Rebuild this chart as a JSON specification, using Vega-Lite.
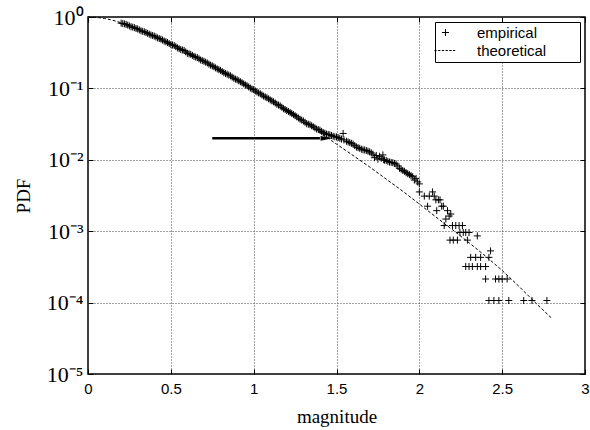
{
  "$schema": "https://vega.github.io/schema/vega-lite/v6.json",
  "width": 497,
  "height": 357,
  "autosize": {"type": "none"},
  "padding": {"left": 88, "top": 17, "right": 5, "bottom": 56},
  "background": "white",
  "config": {
    "view": {"stroke": "black", "strokeWidth": 1.5},
    "axis": {"domain": false, "tickColor": "black", "tickSize": -5, "tickWidth": 1, "labelColor": "black", "titleColor": "black", "titleFontWeight": "normal"},
    "legend": {
      "orient": "top-right", "offset": 5, "strokeColor": "black", "strokeWidth": 1, "fillColor": "white",
      "padding": 3, "cornerRadius": 0, "labelFont": "Liberation Sans", "labelFontSize": 15, "labelColor": "black",
      "symbolSize": 49, "symbolStrokeWidth": 1, "symbolStrokeColor": "black", "symbolFillColor": "transparent",
      "symbolOffset": 0, "labelOffset": 24, "rowPadding": 2
    }
  },
  "datasets": {
    "emp": [
      {"m": 0.20, "pdf": 0.82}, {"m": 0.21, "pdf": 0.81}, {"m": 0.22, "pdf": 0.80}, {"m": 0.23, "pdf": 0.785}, {"m": 0.24, "pdf": 0.77}, {"m": 0.25, "pdf": 0.75}, {"m": 0.26, "pdf": 0.73},
      {"m": 0.27, "pdf": 0.72}, {"m": 0.28, "pdf": 0.71}, {"m": 0.29, "pdf": 0.69}, {"m": 0.30, "pdf": 0.68}, {"m": 0.31, "pdf": 0.66}, {"m": 0.32, "pdf": 0.64}, {"m": 0.33, "pdf": 0.63}, {"m": 0.34, "pdf": 0.62},
      {"m": 0.35, "pdf": 0.605}, {"m": 0.36, "pdf": 0.59}, {"m": 0.37, "pdf": 0.575}, {"m": 0.38, "pdf": 0.56}, {"m": 0.39, "pdf": 0.55}, {"m": 0.40, "pdf": 0.54}, {"m": 0.41, "pdf": 0.525}, {"m": 0.42, "pdf": 0.51},
      {"m": 0.43, "pdf": 0.50}, {"m": 0.44, "pdf": 0.49}, {"m": 0.45, "pdf": 0.475}, {"m": 0.46, "pdf": 0.46}, {"m": 0.47, "pdf": 0.45}, {"m": 0.48, "pdf": 0.44}, {"m": 0.49, "pdf": 0.425}, {"m": 0.50, "pdf": 0.41},
      {"m": 0.51, "pdf": 0.405}, {"m": 0.52, "pdf": 0.40}, {"m": 0.53, "pdf": 0.385}, {"m": 0.54, "pdf": 0.37}, {"m": 0.55, "pdf": 0.36}, {"m": 0.56, "pdf": 0.35}, {"m": 0.57, "pdf": 0.345}, {"m": 0.58, "pdf": 0.34},
      {"m": 0.59, "pdf": 0.325}, {"m": 0.60, "pdf": 0.31}, {"m": 0.61, "pdf": 0.305}, {"m": 0.62, "pdf": 0.30}, {"m": 0.63, "pdf": 0.29}, {"m": 0.64, "pdf": 0.28}, {"m": 0.65, "pdf": 0.275}, {"m": 0.66, "pdf": 0.27},
      {"m": 0.67, "pdf": 0.26}, {"m": 0.68, "pdf": 0.25}, {"m": 0.69, "pdf": 0.245}, {"m": 0.70, "pdf": 0.24}, {"m": 0.71, "pdf": 0.233}, {"m": 0.72, "pdf": 0.227}, {"m": 0.73, "pdf": 0.219}, {"m": 0.74, "pdf": 0.212},
      {"m": 0.75, "pdf": 0.207}, {"m": 0.76, "pdf": 0.201}, {"m": 0.77, "pdf": 0.194}, {"m": 0.78, "pdf": 0.188}, {"m": 0.79, "pdf": 0.183}, {"m": 0.80, "pdf": 0.179}, {"m": 0.81, "pdf": 0.172}, {"m": 0.82, "pdf": 0.166},
      {"m": 0.83, "pdf": 0.162}, {"m": 0.84, "pdf": 0.158}, {"m": 0.85, "pdf": 0.154}, {"m": 0.86, "pdf": 0.150}, {"m": 0.87, "pdf": 0.144}, {"m": 0.88, "pdf": 0.139}, {"m": 0.89, "pdf": 0.135}, {"m": 0.90, "pdf": 0.132},
      {"m": 0.91, "pdf": 0.128}, {"m": 0.92, "pdf": 0.124}, {"m": 0.93, "pdf": 0.120}, {"m": 0.94, "pdf": 0.116}, {"m": 0.95, "pdf": 0.112}, {"m": 0.96, "pdf": 0.109}, {"m": 0.97, "pdf": 0.105}, {"m": 0.98, "pdf": 0.101},
      {"m": 0.99, "pdf": 0.098}, {"m": 1.00, "pdf": 0.096}, {"m": 1.01, "pdf": 0.092}, {"m": 1.02, "pdf": 0.089}, {"m": 1.03, "pdf": 0.0865}, {"m": 1.04, "pdf": 0.084}, {"m": 1.05, "pdf": 0.081}, {"m": 1.06, "pdf": 0.078},
      {"m": 1.07, "pdf": 0.076}, {"m": 1.08, "pdf": 0.074}, {"m": 1.09, "pdf": 0.0715}, {"m": 1.10, "pdf": 0.069}, {"m": 1.11, "pdf": 0.067}, {"m": 1.12, "pdf": 0.065}, {"m": 1.13, "pdf": 0.0625}, {"m": 1.14, "pdf": 0.060},
      {"m": 1.15, "pdf": 0.0585}, {"m": 1.16, "pdf": 0.057}, {"m": 1.17, "pdf": 0.0545}, {"m": 1.18, "pdf": 0.052}, {"m": 1.19, "pdf": 0.0505}, {"m": 1.20, "pdf": 0.049}, {"m": 1.21, "pdf": 0.0475}, {"m": 1.22, "pdf": 0.046},
      {"m": 1.23, "pdf": 0.0445}, {"m": 1.24, "pdf": 0.043}, {"m": 1.25, "pdf": 0.0415}, {"m": 1.26, "pdf": 0.040}, {"m": 1.27, "pdf": 0.0385}, {"m": 1.28, "pdf": 0.037}, {"m": 1.29, "pdf": 0.036}, {"m": 1.30, "pdf": 0.035},
      {"m": 1.31, "pdf": 0.0335}, {"m": 1.32, "pdf": 0.032}, {"m": 1.33, "pdf": 0.0315}, {"m": 1.34, "pdf": 0.031}, {"m": 1.35, "pdf": 0.030}, {"m": 1.36, "pdf": 0.029}, {"m": 1.37, "pdf": 0.028}, {"m": 1.38, "pdf": 0.027},
      {"m": 1.39, "pdf": 0.0265}, {"m": 1.40, "pdf": 0.026}, {"m": 1.41, "pdf": 0.025}, {"m": 1.42, "pdf": 0.024}, {"m": 1.43, "pdf": 0.0235}, {"m": 1.44, "pdf": 0.0229}, {"m": 1.45, "pdf": 0.0226}, {"m": 1.46, "pdf": 0.0224},
      {"m": 1.47, "pdf": 0.0219}, {"m": 1.48, "pdf": 0.0214}, {"m": 1.49, "pdf": 0.021}, {"m": 1.50, "pdf": 0.0209}, {"m": 1.51, "pdf": 0.0205}, {"m": 1.52, "pdf": 0.0200}, {"m": 1.53, "pdf": 0.0195}, {"m": 1.54, "pdf": 0.0234},
      {"m": 1.545, "pdf": 0.0190}, {"m": 1.56, "pdf": 0.0182}, {"m": 1.57, "pdf": 0.0178}, {"m": 1.58, "pdf": 0.0174}, {"m": 1.59, "pdf": 0.017}, {"m": 1.60, "pdf": 0.0166},
      {"m": 1.61, "pdf": 0.0158}, {"m": 1.62, "pdf": 0.0151}, {"m": 1.63, "pdf": 0.0148}, {"m": 1.64, "pdf": 0.0145}, {"m": 1.65, "pdf": 0.0141}, {"m": 1.66, "pdf": 0.0138}, {"m": 1.67, "pdf": 0.0137}, {"m": 1.68, "pdf": 0.0135},
      {"m": 1.69, "pdf": 0.0132}, {"m": 1.70, "pdf": 0.0129}, {"m": 1.71, "pdf": 0.0125}, {"m": 1.72, "pdf": 0.0120}, {"m": 1.73, "pdf": 0.0107}, {"m": 1.74, "pdf": 0.0115}, {"m": 1.75, "pdf": 0.0102},
      {"m": 1.76, "pdf": 0.0112}, {"m": 1.77, "pdf": 0.0105}, {"m": 1.78, "pdf": 0.0117}, {"m": 1.785, "pdf": 0.0100}, {"m": 1.79, "pdf": 0.0099}, {"m": 1.80, "pdf": 0.0098},
      {"m": 1.81, "pdf": 0.0095}, {"m": 1.82, "pdf": 0.0093}, {"m": 1.83, "pdf": 0.0092}, {"m": 1.84, "pdf": 0.0091}, {"m": 1.85, "pdf": 0.0089}, {"m": 1.86, "pdf": 0.0087}, {"m": 1.87, "pdf": 0.0082}, {"m": 1.88, "pdf": 0.0076},
      {"m": 1.89, "pdf": 0.0074}, {"m": 1.90, "pdf": 0.0071}, {"m": 1.91, "pdf": 0.0069}, {"m": 1.92, "pdf": 0.0066}, {"m": 1.93, "pdf": 0.0064}, {"m": 1.94, "pdf": 0.0062}, {"m": 1.95, "pdf": 0.0060}, {"m": 1.96, "pdf": 0.0058},
      {"m": 1.97, "pdf": 0.0052}, {"m": 1.98, "pdf": 0.0055}, {"m": 1.99, "pdf": 0.0049}, {"m": 2.00, "pdf": 0.0046},
      {"m": 2.00, "pdf": 0.00355}, {"m": 2.08, "pdf": 0.00355},
      {"m": 2.03, "pdf": 0.0031}, {"m": 2.06, "pdf": 0.0031}, {"m": 2.09, "pdf": 0.0031},
      {"m": 2.10, "pdf": 0.00275}, {"m": 2.115, "pdf": 0.00275}, {"m": 2.125, "pdf": 0.00275},
      {"m": 2.05, "pdf": 0.00224}, {"m": 2.135, "pdf": 0.00224}, {"m": 2.145, "pdf": 0.00224},
      {"m": 2.105, "pdf": 0.00194}, {"m": 2.17, "pdf": 0.00194},
      {"m": 2.19, "pdf": 0.00174}, {"m": 2.18, "pdf": 0.00163}, {"m": 2.16, "pdf": 0.00148},
      {"m": 2.15, "pdf": 0.0012}, {"m": 2.20, "pdf": 0.0012}, {"m": 2.22, "pdf": 0.0012}, {"m": 2.24, "pdf": 0.0012}, {"m": 2.26, "pdf": 0.0012},
      {"m": 2.245, "pdf": 0.00096}, {"m": 2.265, "pdf": 0.00096}, {"m": 2.28, "pdf": 0.00096}, {"m": 2.30, "pdf": 0.00096},
      {"m": 2.35, "pdf": 0.00086},
      {"m": 2.185, "pdf": 0.00075}, {"m": 2.205, "pdf": 0.00075}, {"m": 2.23, "pdf": 0.00075}, {"m": 2.29, "pdf": 0.00075},
      {"m": 2.43, "pdf": 0.00053},
      {"m": 2.31, "pdf": 0.00043}, {"m": 2.34, "pdf": 0.00043}, {"m": 2.37, "pdf": 0.00043}, {"m": 2.42, "pdf": 0.00043},
      {"m": 2.28, "pdf": 0.00032}, {"m": 2.30, "pdf": 0.00032}, {"m": 2.32, "pdf": 0.00032}, {"m": 2.35, "pdf": 0.00032}, {"m": 2.37, "pdf": 0.00032}, {"m": 2.40, "pdf": 0.00032},
      {"m": 2.40, "pdf": 0.000214}, {"m": 2.46, "pdf": 0.000214}, {"m": 2.48, "pdf": 0.000214}, {"m": 2.50, "pdf": 0.000214}, {"m": 2.53, "pdf": 0.000214},
      {"m": 2.42, "pdf": 0.000107}, {"m": 2.45, "pdf": 0.000107}, {"m": 2.48, "pdf": 0.000107}, {"m": 2.54, "pdf": 0.000107},
      {"m": 2.63, "pdf": 0.000107}, {"m": 2.68, "pdf": 0.000107}, {"m": 2.77, "pdf": 0.000107}
    ],
    "theo": [
      {"m": 0.0, "pdf": 1.0}, {"m": 0.05, "pdf": 0.99}, {"m": 0.1, "pdf": 0.955}, {"m": 0.15, "pdf": 0.9},
      {"m": 0.2, "pdf": 0.832}, {"m": 0.3, "pdf": 0.676}, {"m": 0.4, "pdf": 0.537}, {"m": 0.5, "pdf": 0.417},
      {"m": 0.6, "pdf": 0.316}, {"m": 0.7, "pdf": 0.24}, {"m": 0.8, "pdf": 0.178}, {"m": 0.9, "pdf": 0.132},
      {"m": 1.0, "pdf": 0.0955}, {"m": 1.1, "pdf": 0.0692}, {"m": 1.2, "pdf": 0.049}, {"m": 1.3, "pdf": 0.0347},
      {"m": 1.4, "pdf": 0.024}, {"m": 1.5, "pdf": 0.0166}, {"m": 1.6, "pdf": 0.0115}, {"m": 1.7, "pdf": 0.00794},
      {"m": 1.8, "pdf": 0.00537}, {"m": 1.9, "pdf": 0.00363}, {"m": 2.0, "pdf": 0.0024}, {"m": 2.1, "pdf": 0.00158},
      {"m": 2.2, "pdf": 0.00105}, {"m": 2.3, "pdf": 0.00069}, {"m": 2.4, "pdf": 0.000447}, {"m": 2.5, "pdf": 0.000282},
      {"m": 2.6, "pdf": 0.00017}, {"m": 2.7, "pdf": 0.0001}, {"m": 2.8, "pdf": 0.00006}
    ],
    "arrow": [{"m": 0.75, "m2": 1.40, "pdf": 0.02, "head": 1.44}]
  },
  "layer": [
    {
      "data": {"name": "theo"},
      "mark": {"type": "line", "color": "black", "strokeWidth": 1, "strokeDash": [3, 2]},
      "encoding": {
        "x": {"field": "m", "type": "quantitative", "scale": {"domain": [0, 3], "nice": false, "zero": false},
          "axis": {"orient": "top", "labels": false, "grid": false, "title": null, "values": [0, 0.5, 1, 1.5, 2, 2.5, 3]}},
        "y": {"field": "pdf", "type": "quantitative", "scale": {"type": "log", "domain": [0.00001, 1], "nice": false},
          "axis": {"orient": "right", "labels": false, "grid": false, "title": null, "values": [0.00001, 0.0001, 0.001, 0.01, 0.1, 1]}}
      }
    },
    {
      "data": {"name": "emp"},
      "mark": {"type": "point", "filled": false, "color": "black", "strokeWidth": 1, "size": 49, "opacity": 1},
      "encoding": {
        "x": {"field": "m", "type": "quantitative", "scale": {"domain": [0, 3], "nice": false, "zero": false},
          "axis": {"orient": "bottom", "title": "magnitude", "values": [0, 0.5, 1, 1.5, 2, 2.5, 3], "format": "~g",
            "labelFont": "Liberation Sans", "labelFontSize": 15, "labelPadding": 12, "labelFlush": false,
            "titleFont": "Liberation Serif", "titleFontSize": 19, "titlePadding": 11,
            "grid": true, "gridColor": "#444", "gridDash": [1, 2], "gridWidth": 1}},
        "y": {"field": "pdf", "type": "quantitative", "scale": {"type": "log", "domain": [0.00001, 1], "nice": false},
          "axis": {"orient": "left", "title": "PDF", "values": [0.00001, 0.0001, 0.001, 0.01, 0.1, 1],
            "labelExpr": "datum.value >= 0.5 ? '10⁰' : '10⁻' + ['','¹','²','³','⁴','⁵'][round(-log(datum.value)/LN10)]",
            "labelFont": "Liberation Serif", "labelFontSize": 22, "labelPadding": 10, "labelFlush": false,
            "titleFont": "Liberation Serif", "titleFontSize": 19, "titlePadding": 13,
            "grid": true, "gridColor": "#444", "gridDash": [1, 2], "gridWidth": 1}},
        "shape": {"datum": "empirical", "type": "nominal",
          "scale": {"domain": ["empirical", "theoretical"],
            "range": ["M-1,0H1M0,-1V1M36.9,0L36.9,0", "M-3.15,0H-2.52M-2.09,0H-1.46M-1.03,0H-0.4M0.03,0H0.66M1.09,0H1.72M2.15,0H2.78M36.9,0L36.9,0"]},
          "legend": {"title": null}}
      }
    },
    {
      "data": {"name": "arrow"},
      "mark": {"type": "rule", "color": "black", "strokeWidth": 2.5},
      "encoding": {
        "x": {"field": "m", "type": "quantitative", "axis": null},
        "x2": {"field": "m2"},
        "y": {"field": "pdf", "type": "quantitative", "axis": null}
      }
    },
    {
      "data": {"name": "arrow"},
      "mark": {"type": "point", "shape": "M-1,-0.4L1,0L-1,0.4Z", "filled": true, "color": "black", "size": 144, "opacity": 1},
      "encoding": {
        "x": {"field": "head", "type": "quantitative", "axis": null},
        "y": {"field": "pdf", "type": "quantitative", "axis": null}
      }
    }
  ],
  "resolve": {"axis": {"x": "independent", "y": "independent"}, "scale": {"x": "shared", "y": "shared"}}
}
